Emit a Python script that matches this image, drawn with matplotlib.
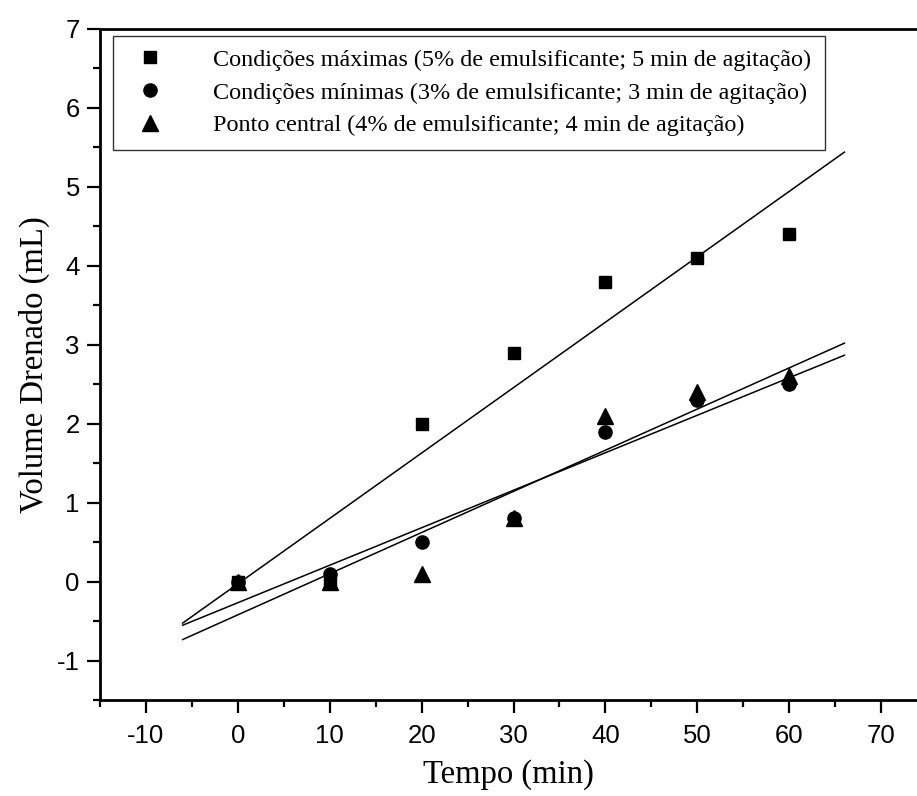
import numpy as np
import matplotlib
matplotlib.use("Agg")
import matplotlib.pyplot as plt
from matplotlib.ticker import MultipleLocator

plt.rcParams["axes.unicode_minus"] = False

tempo = [0, 10, 20, 30, 40, 50, 60]
vol_max = [0.0, 0.0, 2.0, 2.9, 3.8, 4.1, 4.4]
vol_min = [0.0, 0.1, 0.5, 0.8, 1.9, 2.3, 2.5]
vol_central = [0.0, 0.0, 0.1, 0.8, 2.1, 2.4, 2.6]

labels = [
    "Condições máximas (5% de emulsificante; 5 min de agitação)",
    "Condições mínimas (3% de emulsificante; 3 min de agitação)",
    "Ponto central (4% de emulsificante; 4 min de agitação)",
]
fit_range = [-6, 66]

fig = plt.figure(figsize=(9.17, 7.96), dpi=100)
ax = fig.add_axes([0.109, 0.1206, 0.891, 0.843])

serif = "Liberation Serif"
sans = "Liberation Sans"

x = np.array(tempo, dtype=float)
xf = np.array(fit_range, dtype=float)
series = [(vol_max, "s", 9), (vol_min, "o", 9.5), (vol_central, "^", 11)]
handles = []
for (y, m, ms), lab in zip(series, labels):
    h, = ax.plot(x, y, linestyle="none", marker=m, markersize=ms, color="black", label=lab, zorder=3)
    handles.append(h)
    k, b = np.polyfit(x, np.array(y, dtype=float), 1)
    ax.plot(xf, k * xf + b, color="black", linewidth=1.1, zorder=2)

ax.set_xlim(-15, 73.9)
ax.set_ylim(-1.5, 7)
ax.xaxis.set_major_locator(MultipleLocator(10))
ax.xaxis.set_minor_locator(MultipleLocator(5))
ax.yaxis.set_major_locator(MultipleLocator(1))
ax.yaxis.set_minor_locator(MultipleLocator(0.5))

ax.spines["right"].set_visible(False)
for s in ["left", "bottom", "top"]:
    ax.spines[s].set_linewidth(2.0)

ax.tick_params(which="major", direction="out", length=9.5, width=1.6, top=False, right=False)
ax.tick_params(which="minor", direction="out", length=5, width=1.6, top=False, right=False)
for t in ax.get_xticklabels() + ax.get_yticklabels():
    t.set_fontfamily(sans)
    t.set_fontsize(18.5)
ax.tick_params(axis="x", pad=8)
ax.tick_params(axis="y", pad=5)

ax.set_xlabel("Tempo (min)", fontfamily=serif, fontsize=23.5, labelpad=8)
ax.set_ylabel("Volume Drenado (mL)", fontfamily=serif, fontsize=23.5, labelpad=5)

leg = ax.legend(handles=handles, loc="upper left", bbox_to_anchor=(0.016, 0.99),
                prop={"family": serif, "size": 17.4}, frameon=True, fancybox=False,
                edgecolor="black", handletextpad=1.6, borderpad=0.55, labelspacing=0.45,
                handlelength=2.0, borderaxespad=0)
leg.get_frame().set_linewidth(1.0)

fig.savefig("out.png", dpi=100)
